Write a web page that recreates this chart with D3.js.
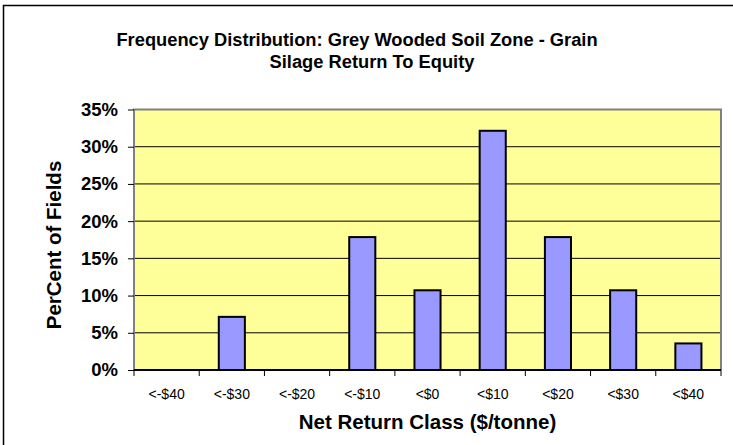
<!DOCTYPE html>
<html>
<head>
<meta charset="utf-8">
<script src="https://cdn.jsdelivr.net/npm/d3@7"></script>
<style>
  body { margin: 0; background: #fff; }
  svg { display: block; font-family: Arial, "Liberation Sans", sans-serif; }
</style>
</head>
<body>
<div id="chart"></div>
<script>
'use strict';

// net return classes ($/tonne) and share of fields in each
var classes = ['<-$40', '<-$30', '<-$20', '<-$10', '<$0', '<$10', '<$20', '<$30', '<$40'];
var percentFields = [0, 7.14, 0, 17.86, 10.71, 32.14, 17.86, 10.71, 3.57];
var yTicks = [0, 5, 10, 15, 20, 25, 30, 35];
var titleLines = ['Frequency Distribution: Grey Wooded Soil Zone - Grain', 'Silage Return To Equity'];

var width = 733, height = 445;
var margin = {top: 109.5, right: 12, bottom: 75, left: 134};

var svg = d3.select('#chart').append('svg')
    .attr('width', width)
    .attr('height', height);

// chart area border (runs off the right/bottom of the picture)
svg.append('rect')
    .attr('x', 3.5).attr('y', 5.5)
    .attr('width', 780).attr('height', 480)
    .attr('fill', '#fff')
    .attr('stroke', '#000')
    .attr('stroke-width', 1.5);

var x = d3.scaleBand()
    .domain(classes)
    .range([margin.left, width - margin.right])
    .paddingInner(0.6)
    .paddingOuter(0.3);

var y = d3.scaleLinear()
    .domain([0, 35])
    .range([height - margin.bottom, margin.top]);

var x0 = margin.left, x1 = width - margin.right;

// plot area
svg.append('rect')
    .attr('x', x0).attr('y', y(35))
    .attr('width', x1 - x0).attr('height', y(0) - y(35))
    .attr('fill', '#FFFF99');

// gridlines
svg.append('g').selectAll('line')
    .data(yTicks.filter(function(d) { return d > 0 && d < 35; }))
    .enter().append('line')
    .attr('x1', x0).attr('x2', x1)
    .attr('y1', function(d) { return y(d); })
    .attr('y2', function(d) { return y(d); })
    .attr('stroke', '#000')
    .attr('stroke-width', 1);

// grey plot border: top, right and left
svg.append('path')
    .attr('d', 'M' + x0 + ',' + y(0) + 'V' + y(35) + 'H' + x1 + 'V' + y(0))
    .attr('fill', 'none')
    .attr('stroke', '#808080')
    .attr('stroke-width', 2);

// bars
var barData = classes.map(function(c, i) { return {cls: c, value: percentFields[i]}; })
    .filter(function(d) { return d.value > 0; });

svg.append('g').selectAll('rect')
    .data(barData)
    .enter().append('rect')
    .attr('x', function(d) { return x(d.cls); })
    .attr('y', function(d) { return y(d.value); })
    .attr('width', x.bandwidth())
    .attr('height', function(d) { return y(0) - y(d.value); })
    .attr('fill', '#9999FF')
    .attr('stroke', '#000')
    .attr('stroke-width', 2);

// y axis
var yAxis = d3.axisLeft(y)
    .tickValues(yTicks)
    .tickSize(6)
    .tickPadding(10)
    .tickFormat(function(d) { return d + '%'; });

var gy = svg.append('g')
    .attr('transform', 'translate(' + x0 + ',0)')
    .call(yAxis);
gy.select('.domain').remove();
gy.selectAll('.tick line').attr('stroke', '#000');
gy.selectAll('.tick text')
    .attr('fill', '#000')
    .style('font-size', '18.5px')
    .style('font-weight', 'bold')
    .style('font-family', 'Arial, "Liberation Sans", sans-serif');

// x axis: ticks sit between classes
var step = x.step();
var xAxis = d3.axisBottom(x).tickSize(0).tickPadding(19);
var gx = svg.append('g')
    .attr('transform', 'translate(0,' + y(0) + ')')
    .call(xAxis);
gx.select('.domain').remove();
gx.selectAll('.tick text')
    .attr('fill', '#000')
    .style('font-size', '14px')
    .style('font-family', 'Arial, "Liberation Sans", sans-serif');

gx.append('line')
    .attr('x1', x0).attr('x2', x1)
    .attr('stroke', '#000')
    .attr('stroke-width', 2);
gx.selectAll('.sep')
    .data(d3.range(classes.length + 1))
    .enter().append('line')
    .attr('class', 'sep')
    .attr('x1', function(i) { return x0 + i * step; })
    .attr('x2', function(i) { return x0 + i * step; })
    .attr('y1', 0).attr('y2', 6)
    .attr('stroke', '#000');

// titles
svg.append('g').selectAll('text')
    .data(titleLines)
    .enter().append('text')
    .attr('x', function(d, i) { return i === 0 ? 357 : 372; })
    .attr('y', function(d, i) { return 46 + i * 22; })
    .attr('text-anchor', 'middle')
    .style('font-size', '18.3px')
    .style('font-weight', 'bold')
    .text(function(d) { return d; });

svg.append('text')
    .attr('x', (x0 + x1) / 2)
    .attr('y', 429)
    .attr('text-anchor', 'middle')
    .style('font-size', '20.5px')
    .style('font-weight', 'bold')
    .text('Net Return Class ($/tonne)');

svg.append('text')
    .attr('transform', 'translate(61,245) rotate(-90)')
    .attr('text-anchor', 'middle')
    .style('font-size', '20.5px')
    .style('font-weight', 'bold')
    .text('PerCent of Fields');
</script>
</body>
</html>
